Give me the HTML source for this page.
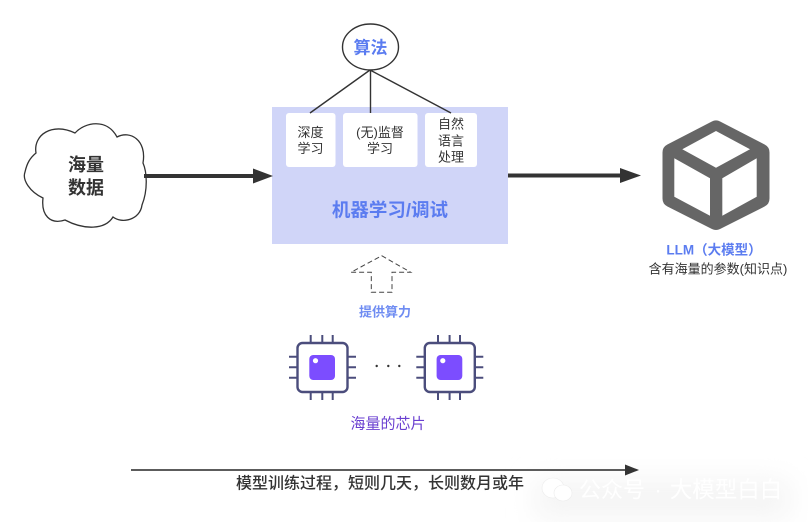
<!DOCTYPE html>
<html lang="zh">
<head>
<meta charset="utf-8">
<style>
html,body{margin:0;padding:0;background:#fff}
svg{display:block}
text{font-family:"Liberation Sans","Noto Sans CJK SC",sans-serif;text-anchor:middle;dominant-baseline:central}
.b{fill:#5b7cf0;font-weight:700}
.k{fill:#333;font-size:13px}
</style>
</head>
<body>
<svg width="808" height="522" viewBox="0 0 808 522" xmlns="http://www.w3.org/2000/svg">
<defs>
<filter id="blur" x="-30%" y="-60%" width="160%" height="220%"><feGaussianBlur stdDeviation="14"/></filter>
<g id="chip">
<g stroke="#4b4d7c" stroke-width="2" fill="none">
<path d="M310.7 335v8M322.3 335v8M332.7 335v8M310.7 392v8M322.3 392v8M332.7 392v8M289 356.7h8M289 367.3h8M289 377.7h8M348 356.7h8M348 367.3h8M348 377.7h8"/>
<rect x="297.5" y="343" width="50" height="49" rx="5" fill="#fff" stroke-width="2.4"/>
</g>
<rect x="309.3" y="355" width="25.7" height="25" rx="4" fill="#7c4dff"/>
<circle cx="315.5" cy="360.7" r="2.6" fill="#fff"/>
</g>
</defs>

<!-- watermark shading -->
<rect x="535" y="480" width="255" height="38" fill="#f4f4f4" filter="url(#blur)"/>

<!-- machine learning box -->
<rect x="272" y="107" width="236" height="137" fill="#d0d5f8"/>
<rect x="286" y="113" width="49.5" height="54" rx="3" fill="#fff"/>
<rect x="343" y="113" width="74.5" height="54" rx="3" fill="#fff"/>
<rect x="425" y="113" width="52" height="54" rx="3" fill="#fff"/>

<!-- algorithm connectors -->
<g stroke="#333" stroke-width="1.4" fill="none">
<path d="M370 70L310 113M370.500 70V113M370 70L451 113"/>
</g>
<ellipse cx="370.500" cy="47" rx="28" ry="23" fill="#fff" stroke="#333" stroke-width="1.4"/>
<text x="370.500" y="48" class="b" style="font-size:17px">算法</text>

<text x="310.500" y="132.500" class="k">深度</text>
<text x="310.500" y="148.500" class="k">学习</text>
<text x="380" y="132.500" class="k">(无)监督</text>
<text x="380" y="148.500" class="k">学习</text>
<text x="451" y="124" class="k">自然</text>
<text x="451" y="141" class="k">语言</text>
<text x="451" y="157" class="k">处理</text>
<text x="390" y="210" class="b" style="font-size:18.500px">机器学习/调试</text>

<!-- cloud -->
<path d="M36 153C33 135 52 122 75 133C85 122 107 118 117 137C130 130 147 140 143 163C147 172 148 190 142 205C140 220 122 224 113 217C105 230 84 230 65 220C50 225 41 215 43 198C30 192 22 180 25 172C27 163 30 158 36 153Z" fill="#fff" stroke="#333" stroke-width="1.3"/>
<text x="86" y="165" style="font-size:18px;font-weight:700;fill:#333">海量</text>
<text x="86" y="188" style="font-size:18px;font-weight:700;fill:#333">数据</text>

<!-- main arrows -->
<path d="M144 176H256" stroke="#333" stroke-width="4"/>
<path d="M253 168.500L273 176L253 183.500Z" fill="#333"/>
<path d="M508 175.500H622" stroke="#333" stroke-width="4"/>
<path d="M620 168L641 175.500L620 183Z" fill="#333"/>

<!-- cube -->
<polygon points="716,129.500 760.500,152.500 760.500,198.500 716,221 671.500,198.500 671.500,152.500" fill="#666" stroke="#666" stroke-width="18" stroke-linejoin="round"/>
<polygon points="682.300,149.300 716,131 750,149.300 716,167.700" fill="#fff"/>
<polygon points="674.300,158.300 710,178.300 710,215.700 674.300,196.700" fill="#fff"/>
<polygon points="722.300,178.300 756.700,158.300 756.700,196.700 722.300,215.700" fill="#fff"/>
<text x="714" y="250" class="b" style="font-size:13.500px">LLM（大模型）</text>
<text x="718" y="269" style="font-size:13px;fill:#333">含有海量的参数(知识点)</text>

<!-- dashed arrow -->
<path d="M381.700 255.700L410.700 272.300H392V292.300H371.300V272.300H351Z" fill="#fff" stroke="#444" stroke-width="1" stroke-dasharray="5 3"/>
<text x="385" y="312" style="font-size:13px;font-weight:700;fill:#6f8cf2">提供算力</text>

<!-- chips -->
<use href="#chip"/>
<use href="#chip" x="127.300"/>
<circle cx="376.700" cy="366" r="1.200" fill="#333"/>
<circle cx="388.300" cy="366" r="1.200" fill="#333"/>
<circle cx="399.300" cy="366" r="1.200" fill="#333"/>
<text x="388" y="424" style="font-size:15px;fill:#6a3fd0">海量的芯片</text>

<!-- timeline -->
<path d="M131 470H628" stroke="#444" stroke-width="1.800"/>
<path d="M625 464.500L639 470L625 475.500Z" fill="#333"/>
<text x="380" y="484" style="font-size:16px;font-weight:500;fill:#333">模型训练过程，短则几天，长则数月或年</text>

<!-- watermark -->
<g fill="#fff" stroke="#ececec" stroke-width=".6">
<ellipse cx="553" cy="488" rx="11" ry="10"/>
<ellipse cx="563" cy="493" rx="9" ry="8"/>
</g>
<g style="font-size:22px;fill:#fff">
<text x="612" y="490">公众号</text>
<text x="658" y="490">·</text>
<text x="726" y="490" style="font-size:22.500px">大模型白白</text>
</g>
</svg>
</body>
</html>
